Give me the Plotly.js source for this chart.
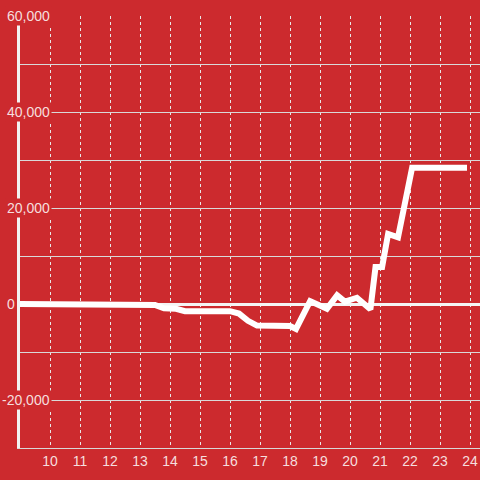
<!DOCTYPE html>
<html>
<head>
<meta charset="utf-8">
<script src="https://cdn.plot.ly/plotly-3.0.1.min.js"></script>
<style>html,body{margin:0;padding:0;background:#cc2a2e;}#chart{width:480px;height:480px;}</style>
</head>
<body>
<div id="chart"></div>
<script>
// Data
const hours = [9, 13.3, 13.5, 13.8, 14.2, 14.5, 16.0, 16.3, 16.6, 16.9, 18.0, 18.2, 18.67, 19.23, 19.57, 19.83, 20.23, 20.68, 20.85, 21.07, 21.27, 21.6, 22.07, 23.9];
const values = [0, 0, -200, -900, -1000, -1500, -1500, -2000, -3500, -4500, -4600, -5200, 600, -1000, 1800, 500, 1300, -1100, 7700, 7700, 14600, 13900, 28400, 28400];
const yTickVals = [-30000, -20000, -10000, 0, 10000, 20000, 30000, 40000, 50000, 60000];
const yLabelVals = [60000, 40000, 20000, 0, -20000];
const yLabelText = ['60,000', '40,000', '20,000', '0', '-20,000'];
const xTickVals = [10, 11, 12, 13, 14, 15, 16, 17, 18, 19, 20, 21, 22, 23, 24];

const bg = '#cc2a2e';
const labelColor = '#f6dede';
const font = 'Liberation Sans, Arial, sans-serif';

const trace = {
  x: hours, y: values, type: 'scatter', mode: 'lines',
  line: {color: '#ffffff', width: 6},
  hoverinfo: 'skip'
};

const annotations = yLabelVals.map((v, i) => ({
  xref: 'paper', yref: 'y',
  x: v === 0 ? -0.0065 : 0.0696, y: v,
  xanchor: 'right', yanchor: 'middle',
  text: yLabelText[i], showarrow: false,
  bgcolor: bg, borderpad: 1,
  font: {family: font, size: 14, color: labelColor}
}));

const layout = {
  width: 480, height: 480,
  margin: {l: 20, r: 0, t: 16, b: 32},
  paper_bgcolor: bg, plot_bgcolor: bg,
  showlegend: false,
  font: {family: font, size: 14, color: labelColor},
  xaxis: {
    range: [9, 24.333],
    tickvals: xTickVals,
    ticks: '', ticklen: 0,
    showgrid: true, gridcolor: '#e8e8e8', gridwidth: 1, griddash: 'dot',
    showline: true, linecolor: '#d8d8d8', linewidth: 1,
    zeroline: false,
    tickfont: {family: font, size: 14, color: labelColor}
  },
  yaxis: {
    range: [-30000, 60000],
    tickvals: yTickVals,
    showticklabels: false, ticks: '',
    showgrid: true, gridcolor: '#d9d9d9', gridwidth: 1,
    showline: true, linecolor: '#f2f2f2', linewidth: 3,
    zeroline: true, zerolinecolor: '#f4f4f4', zerolinewidth: 3
  },
  annotations: annotations
};

Plotly.newPlot('chart', [trace], layout, {displayModeBar: false, staticPlot: true});
</script>
</body>
</html>
